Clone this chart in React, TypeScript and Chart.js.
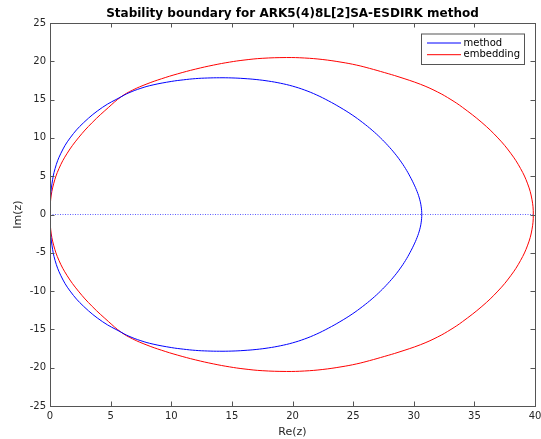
import React, { useEffect, useRef } from "react";
import { Chart, registerables } from "chart.js";

Chart.register(...registerables);

const TITLE = "Stability boundary for ARK5(4)8L[2]SA-ESDIRK method";
const X_LABEL = "Re(z)";
const Y_LABEL = "Im(z)";
const X_MIN = 0, X_MAX = 40, X_STEP = 5;
const Y_MIN = -25, Y_MAX = 25, Y_STEP = 5;

// Upper half of the boundaries (lower half is the mirror image)
const methodRe = [0, 0.03, 0.16, 0.42, 0.9, 1.66, 2.78, 4.34, 5.85, 6.5, 7.5, 8.5, 10, 11, 12, 13, 14, 15, 16, 17, 18, 19, 20, 21, 22, 22.95, 23.91, 24.92, 25.79, 26.57, 27.26, 27.87, 28.42, 28.9, 29.32, 29.68, 30.0, 30.275, 30.485, 30.615, 30.66];
const methodIm = [0, 2, 4, 6, 8, 10, 12, 14, 15.35, 15.88, 16.48, 16.92, 17.37, 17.58, 17.74, 17.82, 17.85, 17.83, 17.75, 17.62, 17.42, 17.14, 16.76, 16.25, 15.6, 14.85, 14, 13, 12, 11, 10, 9, 8, 7, 6, 5, 4, 3, 2, 1, 0];
const embedRe = [0, 0.06, 0.3, 0.74, 1.42, 2.34, 3.48, 4.84, 5.85, 6.8, 8, 9.2, 10.5, 12, 13.5, 14.8, 16, 17.5, 19.5, 21, 22.5, 24, 25.3, 26.35, 27.6, 28.7, 30.55, 31.96, 33.07, 34.01, 35.62, 36.94, 37.995, 38.81, 39.395, 39.745, 39.86];
const embedIm = [0, 2, 4, 6, 8, 10, 12, 14, 15.35, 16.23, 17.05, 17.72, 18.35, 18.98, 19.51, 19.89, 20.16, 20.39, 20.49, 20.43, 20.23, 19.89, 19.5, 19.08, 18.52, 18, 17, 16, 15, 14, 12, 10, 8, 6, 4, 2, 0];

function closedCurve(re: number[], im: number[]) {
  const up = re.map((x, i) => ({ x, y: im[i] }));
  const down = re.map((x, i) => ({ x, y: -im[i] })).reverse().slice(1);
  return up.concat(down);
}

const AXIS_COLOR = "#262626";
const FONT = "'DejaVu Sans', sans-serif";

const decorPlugin = {
  id: "decor",
  afterDraw(chart: any) {
    const ctx = chart.ctx;
    const { left, right, top, bottom } = chart.chartArea;
    const xs = chart.scales.x;
    const ys = chart.scales.y;
    ctx.save();
    // box
    ctx.strokeStyle = "#555555";
    ctx.lineWidth = 1;
    ctx.strokeRect(Math.round(left) + 0.5, Math.round(top) + 0.5, Math.round(right - left), Math.round(bottom - top));
    // inward ticks
    const tl = 4.5;
    ctx.beginPath();
    for (let v = X_MIN; v <= X_MAX; v += X_STEP) {
      const px = Math.round(xs.getPixelForValue(v)) + 0.5;
      ctx.moveTo(px, bottom); ctx.lineTo(px, bottom - tl);
      ctx.moveTo(px, top); ctx.lineTo(px, top + tl);
    }
    for (let v = Y_MIN; v <= Y_MAX; v += Y_STEP) {
      const py = Math.round(ys.getPixelForValue(v)) + 0.5;
      ctx.moveTo(left, py); ctx.lineTo(left + tl, py);
      ctx.moveTo(right, py); ctx.lineTo(right - tl, py);
    }
    ctx.stroke();
    // title
    const cx = (left + right) / 2;
    ctx.fillStyle = "#000000";
    ctx.font = `bold 12px ${FONT}`;
    ctx.textAlign = "center";
    ctx.textBaseline = "alphabetic";
    ctx.fillText(TITLE, cx, 17);
    // axis labels
    ctx.fillStyle = AXIS_COLOR;
    ctx.font = `11px ${FONT}`;
    ctx.textBaseline = "middle";
    ctx.fillText(X_LABEL, cx, 432);
    ctx.save();
    ctx.translate(18, (top + bottom) / 2);
    ctx.rotate(-Math.PI / 2);
    ctx.fillText(Y_LABEL, 0, 0);
    ctx.restore();
    // legend
    const items = chart.data.datasets.filter((d: any) => d.inLegend);
    const bx = 421, by = 33.5, bw = 103, bh = 30.5;
    ctx.fillStyle = "#ffffff";
    ctx.fillRect(bx, by, bw, bh);
    ctx.strokeStyle = "#555555";
    ctx.strokeRect(bx + 0.5, by + 0.5, bw, bh);
    ctx.font = `10px ${FONT}`;
    ctx.textAlign = "left";
    items.forEach((d: any, i: number) => {
      const yy = 43 + i * 11.7;
      ctx.strokeStyle = d.borderColor;
      ctx.beginPath();
      ctx.moveTo(427, yy);
      ctx.lineTo(461, yy);
      ctx.stroke();
      ctx.fillStyle = "#000000";
      ctx.fillText(d.label, 463.5, yy);
    });
    ctx.restore();
  },
};

export default function App() {
  const ref = useRef<HTMLCanvasElement | null>(null);
  useEffect(() => {
    document.body.style.margin = "0";
    const canvas = ref.current!;
    const chart = new Chart(canvas, {
      type: "scatter",
      data: {
        datasets: [
          {
            label: "method",
            data: closedCurve(methodRe, methodIm),
            borderColor: "#0000ff",
            backgroundColor: "#0000ff",
            borderWidth: 1,
            showLine: true,
            pointRadius: 0,
            tension: 0.4,
            fill: false,
            inLegend: true,
          } as any,
          {
            label: "embedding",
            data: closedCurve(embedRe, embedIm),
            borderColor: "#ff0000",
            backgroundColor: "#ff0000",
            borderWidth: 1,
            showLine: true,
            pointRadius: 0,
            tension: 0.4,
            fill: false,
            inLegend: true,
          } as any,
          {
            label: "real axis",
            data: [{ x: X_MIN, y: 0 }, { x: X_MAX, y: 0 }],
            borderColor: "rgba(40,40,255,0.75)",
            borderWidth: 1,
            borderDash: [1, 1.5],
            showLine: true,
            pointRadius: 0,
          },
          {
            label: "imaginary axis",
            data: [{ x: 0, y: Y_MIN }, { x: 0, y: Y_MAX }],
            borderColor: "#0000ff",
            borderWidth: 1,
            showLine: true,
            pointRadius: 0,
          },
        ],
      },
      options: {
        animation: false,
        responsive: false,
        maintainAspectRatio: false,
        devicePixelRatio: 1,
        layout: { padding: { top: 23, right: 6, left: 0, bottom: 0 } },
        plugins: { legend: { display: false }, tooltip: { enabled: false }, title: { display: false } },
        scales: {
          x: {
            type: "linear",
            min: X_MIN,
            max: X_MAX,
            grid: { display: false, drawTicks: false },
            border: { display: false },
            ticks: { stepSize: X_STEP, color: AXIS_COLOR, font: { family: FONT, size: 10 }, padding: 4, maxRotation: 0 },
            afterFit: (s: any) => { s.height = 33; s.paddingLeft = 0; s.paddingRight = 0; },
          },
          y: {
            type: "linear",
            min: Y_MIN,
            max: Y_MAX,
            grid: { display: false, drawTicks: false },
            border: { display: false },
            ticks: { stepSize: Y_STEP, color: AXIS_COLOR, font: { family: FONT, size: 10 }, padding: 4 },
            afterFit: (s: any) => { s.width = 50; s.paddingTop = 0; s.paddingBottom = 0; },
          },
        },
      },
      plugins: [decorPlugin],
    });
    return () => chart.destroy();
  }, []);
  return (
    <div style={{ position: "absolute", left: 0, top: 0, width: 541, height: 439, background: "#ffffff" }}>
      <canvas ref={ref} width={541} height={439} style={{ display: "block", width: 541, height: 439 }} />
    </div>
  );
}
